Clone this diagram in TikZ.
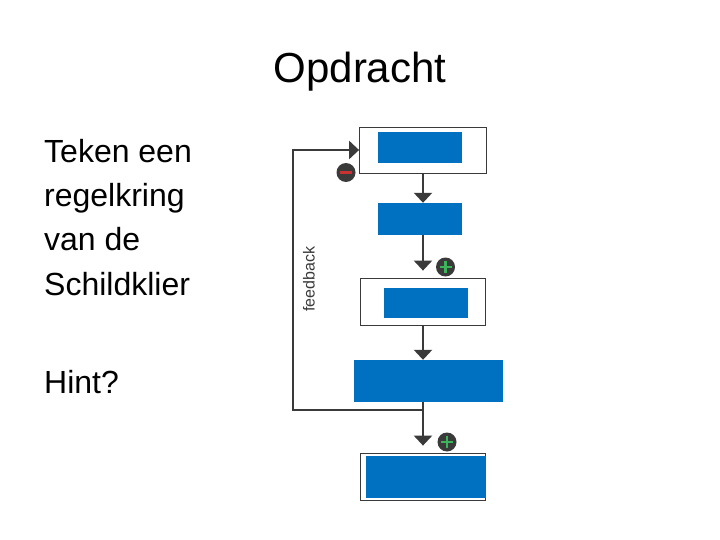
\documentclass[tikz,border=0pt]{standalone}
\usepackage{fontspec}
\setmainfont{Liberation Sans}
\usetikzlibrary{arrows.meta}
\definecolor{boxblue}{RGB}{0,112,192}
\definecolor{linegray}{RGB}{58,58,58}
\definecolor{plusgreen}{RGB}{60,180,90}
\definecolor{minusred}{RGB}{200,50,50}

\begin{document}
\begin{tikzpicture}[
  x=1pt, y=-1pt,
  frame/.style={draw=linegray, line width=0.8pt, fill=white, inner sep=0pt},
  blue/.style={fill=boxblue, inner sep=0pt},
  arr/.style={draw=linegray, line width=2.4pt, -{Triangle[width=18pt,length=10pt]}},
  sign/.style={circle, fill=linegray, minimum size=19pt, inner sep=0pt},
  txt/.style={anchor=base west, inner sep=0pt, font=\fontsize{32}{38}\selectfont}
]
\useasboundingbox (0,0) rectangle (720,540);

% title and text
\node[anchor=base, font=\fontsize{42}{48}\selectfont] (title) at (360,83) {Opdracht};
\node[txt] (l1) at (44,163) {Teken een};
\node[txt] (l2) at (44,207) {regelkring};
\node[txt] (l3) at (44,251) {van de};
\node[txt] (l4) at (44,295) {Schildklier};
\node[txt] (hint) at (44,393) {Hint?};

% boxes
\node[frame, minimum width=127pt, minimum height=46pt] (frame1) at (423,150) {};
\node[blue, minimum width=84pt, minimum height=31pt] (blue1) at (420,147.5) {};
\node[blue, minimum width=84pt, minimum height=32pt] (blue2) at (420,219) {};
\node[frame, minimum width=125pt, minimum height=47pt] (frame3) at (423,301.5) {};
\node[blue, minimum width=84pt, minimum height=30pt] (blue3) at (426,303) {};
\node[blue, minimum width=149pt, minimum height=42pt] (blue4) at (428.5,381) {};
\node[frame, minimum width=125pt, minimum height=47pt] (frame5) at (423,476.5) {};
\node[blue, minimum width=120pt, minimum height=42pt] (blue5) at (426,477) {};

% connections
\coordinate (j) at (423,410);
\coordinate (fb) at (293,150);
\draw[arr] (frame1.south) -- (frame1.south |- blue2.north);
\draw[arr, shorten >=7pt] (blue2.south -| frame3.north) -- (frame3.north);
\draw[arr] (frame3.south) -- (frame3.south |- blue4.north);
\draw[arr, shorten >=7pt] (blue4.south -| frame5.north) -- (frame5.north);
\draw[arr] (j) -| (fb) -- (frame1.west);
\node[rotate=90, font=\fontsize{16}{16}\selectfont, text=linegray] (fbtext) at (309,279) {feedback};

% signs
\node[sign] (minus) at (346,172.5) {};
\draw[minusred, line width=2.2pt] ([xshift=-6pt]minus.center) -- ([xshift=6pt]minus.center);
\node[sign] (plus1) at (445.5,267) {};
\draw[plusgreen, line width=2.4pt] ([xshift=-6pt]plus1.center) -- ([xshift=6pt]plus1.center)
  ([yshift=-6pt]plus1.center) -- ([yshift=6pt]plus1.center);
\node[sign] (plus2) at (447,442) {};
\draw[plusgreen, line width=2.4pt] ([xshift=-6pt]plus2.center) -- ([xshift=6pt]plus2.center)
  ([yshift=-6pt]plus2.center) -- ([yshift=6pt]plus2.center);

\end{tikzpicture}
\end{document}
